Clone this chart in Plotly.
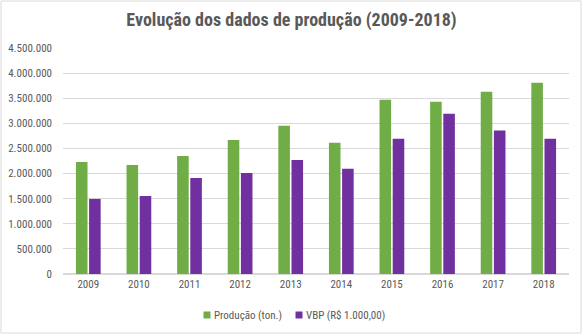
import plotly.graph_objects as go

years = ["2009", "2010", "2011", "2012", "2013", "2014", "2015", "2016", "2017", "2018"]
producao = [2230000, 2170000, 2350000, 2670000, 2950000, 2615000, 3470000, 3430000, 3630000, 3810000]
vbp = [1495000, 1555000, 1910000, 2010000, 2270000, 2095000, 2695000, 3190000, 2855000, 2695000]
series_names = ["Produção (ton.)", "VBP (R$ 1.000,00)"]
series_colors = ["#70AD47", "#7030A0"]

FONT = "'Liberation Sans Narrow', 'Arial Narrow', 'Roboto Condensed', 'Liberation Sans', sans-serif"
GRAY = "#595959"

fig = go.Figure()
for vals, name, color in zip([producao, vbp], series_names, series_colors):
    fig.add_trace(go.Bar(x=years, y=vals, name=name, showlegend=False,
                         marker=dict(color=color, line=dict(width=0))))

L, R, T, B = 63, 14, 48, 61
W, H = 583, 335
pw, ph = W - L - R, H - T - B


def px(x):
    return (x - L) / pw


def py(y):
    return (H - B - y) / ph


# legend (swatch + label) drawn below the plot
legend_swatch_x = [203.5, 295.5]
legend_y = 315
shapes = []
annotations = []
for sx, name, color in zip(legend_swatch_x, series_names, series_colors):
    shapes.append(dict(type="rect", xref="paper", yref="paper",
                       x0=px(sx), x1=px(sx + 7), y0=py(legend_y + 3.5), y1=py(legend_y - 3.5),
                       line=dict(width=0), fillcolor=color))
    annotations.append(dict(text=name, xref="paper", yref="paper", x=px(sx + 8.5), y=py(legend_y),
                            xanchor="left", yanchor="middle", showarrow=False,
                            font=dict(family=FONT, size=11, color=GRAY)))

shapes.append(dict(type="rect", xref="paper", yref="paper",
                   x0=px(1), x1=px(581), y0=py(333), y1=py(1),
                   line=dict(color="#d9d9d9", width=1), fillcolor="rgba(0,0,0,0)", layer="below"))

fig.update_layout(
    width=W, height=H,
    margin=dict(l=L, r=R, t=T, b=B, pad=0, autoexpand=False),
    paper_bgcolor="white", plot_bgcolor="white",
    separators=",.",
    barmode="group", bargap=0.48, bargroupgap=0.12,
    font=dict(family=FONT, size=11, color=GRAY),
    title=dict(text="<b>Evolução dos dados de produção (2009-2018)</b>", x=0.5, xanchor="center",
               y=1 - 20 / H, yanchor="middle", font=dict(family=FONT, size=18, color=GRAY)),
    xaxis=dict(showgrid=False, showline=True, linecolor="#d9d9d9", linewidth=1, ticks="",
               tickfont=dict(family=FONT, size=11, color=GRAY), fixedrange=True),
    yaxis=dict(range=[0, 4500000], dtick=500000, tickformat=",d", showgrid=True, gridcolor="#d9d9d9",
               gridwidth=1, zeroline=True, zerolinecolor="#d9d9d9", showline=False, ticks="",
               ticklabelstandoff=10, tickfont=dict(family=FONT, size=11, color=GRAY)),
    shapes=shapes,
    annotations=annotations,
)

fig.write_html("out.html")
